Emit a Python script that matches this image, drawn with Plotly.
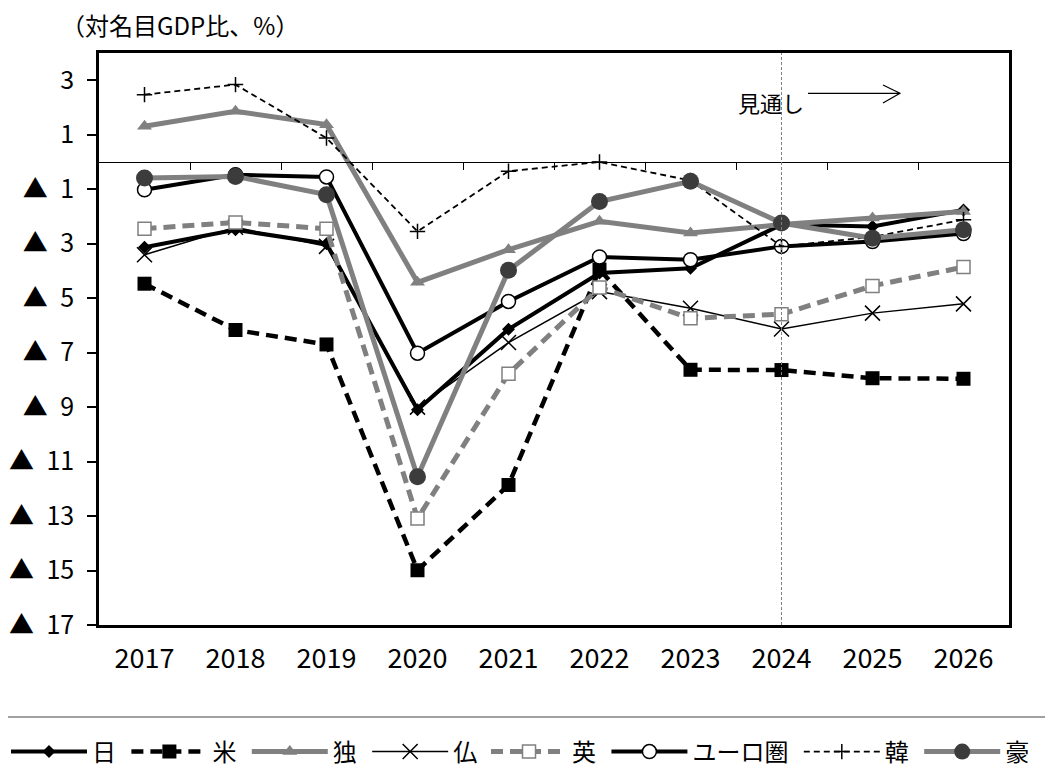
import plotly.graph_objects as go

years = ["2017", "2018", "2019", "2020", "2021", "2022", "2023", "2024", "2025", "2026"]

jp = [-3.13, -2.49, -3.0, -9.1, -6.14, -4.08, -3.9, -2.3, -2.37, -1.76]
us = [-4.47, -6.17, -6.7, -14.99, -11.86, -3.95, -7.63, -7.64, -7.94, -7.96]
de = [1.31, 1.86, 1.37, -4.42, -3.22, -2.18, -2.61, -2.3, -2.06, -1.82]
fr = [-3.41, -2.4, -3.1, -9.0, -6.63, -4.76, -5.37, -6.13, -5.55, -5.21]
uk = [-2.45, -2.22, -2.45, -13.09, -7.78, -4.61, -5.74, -5.59, -4.55, -3.86]
ea = [-1.02, -0.47, -0.55, -7.02, -5.12, -3.49, -3.59, -3.1, -2.92, -2.63]
kr = [2.47, 2.84, 0.88, -2.55, -0.34, 0.0, -0.68, -3.1, -2.75, -2.12]
au = [-0.59, -0.53, -1.2, -11.56, -3.98, -1.45, -0.71, -2.24, -2.8, -2.49]

y_tickvals = [3, 1, -1, -3, -5, -7, -9, -11, -13, -15, -17]
y_ticktext = ["3", "1", "▲\u20021", "▲\u20023", "▲\u20025", "▲\u20027", "▲\u20029",
              "▲\u200211", "▲\u200213", "▲\u200215", "▲\u200217"]

FONT = "Noto Sans CJK JP"
GRAY = "#808080"
DARK = "#3c3c3c"
PAD = "\u00a0"  # small trailing pad to widen legend entries

series = [
    ("日", jp, dict(color="black", width=4), dict(symbol="diamond", size=10, color="black"), "legend"),
    ("米", us, dict(color="black", width=4.5, dash="12px,7px"), dict(symbol="square", size=14, color="black"), "legend"),
    ("独", de, dict(color=GRAY, width=5), dict(symbol="triangle-up", size=13, color=GRAY), "legend"),
    ("仏", fr, dict(color="black", width=1.5), dict(symbol="x-thin", size=15, color="black", line=dict(color="black", width=1.5)), "legend"),
    ("英", uk, dict(color=GRAY, width=5, dash="12px,7px"), dict(symbol="square", size=13, color="white", line=dict(color=GRAY, width=1.5)), "legend2"),
    ("ユーロ圏", ea, dict(color="black", width=4), dict(symbol="circle", size=14, color="white", line=dict(color="black", width=1.5)), "legend2"),
    ("韓", kr, dict(color="black", width=1.8, dash="6px,4px"), dict(symbol="cross-thin", size=11, color="black", line=dict(color="black", width=1.5)), "legend2"),
    ("豪", au, dict(color=GRAY, width=5), dict(symbol="circle", size=17, color=DARK), "legend2"),
]

fig = go.Figure()
for name, vals, line, marker, leg in series:
    fig.add_trace(go.Scatter(x=years, y=vals, name=name + PAD, mode="lines+markers",
                             line=line, marker=marker, legend=leg))

# invisible trace to activate the zero-line axis
bounds = [i + 0.5 for i in range(len(years) - 1)]
fig.add_trace(go.Scatter(x=bounds, y=[0] * len(bounds), xaxis="x2", mode="none",
                         showlegend=False, hoverinfo="skip"))

ymin, ymax = -17, 4
legend_style = dict(orientation="h", xanchor="left", y=-0.222, yanchor="middle",
                    font=dict(size=24, family=FONT), itemwidth=76, traceorder="normal",
                    bgcolor="rgba(0,0,0,0)")
fig.update_layout(
    width=1053, height=780,
    margin=dict(l=91, r=52, t=45, b=163, autoexpand=False),
    paper_bgcolor="white", plot_bgcolor="white",
    font=dict(family=FONT, size=25, color="black"),
    showlegend=True,
    legend=dict(x=-0.1022, **legend_style),
    legend2=dict(x=0.4253, **legend_style),
    xaxis=dict(type="category", range=[-0.5, len(years) - 0.5], showline=True, linecolor="black",
               linewidth=2.5, mirror=True, ticks="", showgrid=False, zeroline=False,
               ticklabelstandoff=8, tickfont=dict(size=27)),
    xaxis2=dict(overlaying="x", anchor="free", position=(0 - ymin) / (ymax - ymin),
                range=[-0.5, len(years) - 0.5], showline=True, linecolor="black", linewidth=1.2,
                ticks="outside", ticklen=7, tickwidth=1.2, tickcolor="black",
                tickvals=bounds, showticklabels=False, showgrid=False, zeroline=False,
                side="bottom"),
    yaxis=dict(range=[ymin, ymax], tickvals=y_tickvals, ticktext=y_ticktext,
               showline=True, linecolor="black", linewidth=2.5, mirror=True,
               ticks="outside", ticklen=9, tickwidth=2, tickcolor="black",
               showgrid=False, zeroline=False, ticklabelstandoff=8,
               tickfont=dict(size=25)),
)

# forecast divider at 2024
fig.add_shape(type="line", xref="x", yref="paper", x0=years.index("2024"), x1=years.index("2024"),
              y0=0, y1=1, line=dict(color=GRAY, width=1, dash="3px,2px"))

# legend separator line
fig.add_shape(type="line", xref="paper", yref="paper", x0=-0.12, x1=1.06, y0=-0.161, y1=-0.161,
              line=dict(color=GRAY, width=1.5))

# unit label
fig.add_annotation(text="（対名目GDP比、%）", xref="paper", yref="paper", x=-0.044, y=1.049,
                   xanchor="left", yanchor="middle", showarrow=False,
                   font=dict(size=24, family=FONT))

# forecast label and arrow
fig.add_annotation(text="見通し", xref="paper", yref="paper", x=0.7385, y=0.914,
                   xanchor="center", yanchor="middle", showarrow=False,
                   font=dict(size=22, family=FONT))
fig.add_shape(type="path", xref="paper", yref="paper",
              path="M 0.7791,0.9295 L 0.8802,0.9295 M 0.8615,0.9441 L 0.8802,0.9295 L 0.8615,0.9126",
              line=dict(color="black", width=1.2))

fig.write_html("out.html")
